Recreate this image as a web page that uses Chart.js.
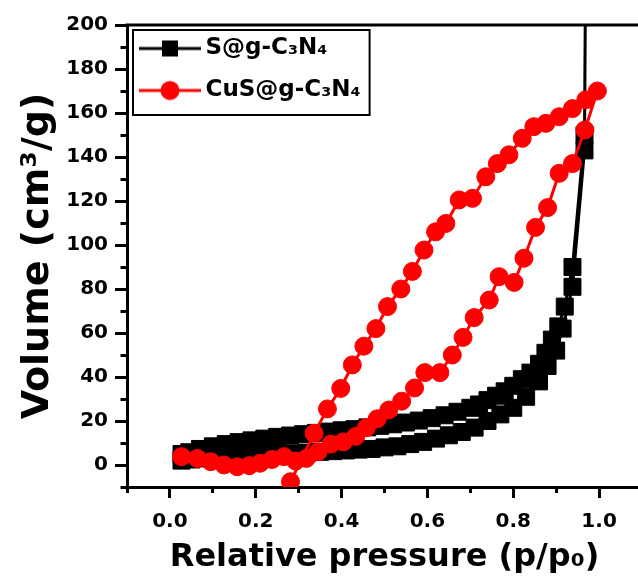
<!DOCTYPE html>
<html>
<head>
  <title>N2 isotherms</title>
  <script src="https://cdn.jsdelivr.net/npm/chart.js"></script>
  <style>
    body { margin: 0; overflow: hidden; background: #fff; }
  </style>
</head>
<body>
  <canvas id="isoChart" width="660" height="581"></canvas>

  <script>
    // relative pressure (p/p0) and volume (cm3/g)
    const sgAdsP = [0.027, 0.05, 0.08, 0.11, 0.14, 0.17, 0.20, 0.23, 0.26, 0.29,
                    0.32, 0.35, 0.38, 0.41, 0.44, 0.47, 0.50, 0.53, 0.56, 0.59,
                    0.62, 0.65, 0.68, 0.71, 0.74, 0.77, 0.80, 0.83, 0.86, 0.88,
                    0.90, 0.915, 0.938, 0.966, 0.969];
    const sgAdsV = [2.0, 2.5, 3.0, 3.3, 3.6, 4.0, 4.3, 4.6, 5.0, 5.3,
                    5.6, 6.0, 6.3, 6.6, 7.0, 7.3, 8.0, 8.5, 9.5, 10.5,
                    12, 13.5, 15, 17, 20, 23, 26, 31, 38, 45,
                    52, 62, 81, 143, 240];
    const sgDesP = [0.966, 0.938, 0.92, 0.905, 0.89, 0.875, 0.86, 0.84, 0.82, 0.80,
                    0.78, 0.76, 0.74, 0.72, 0.70, 0.67, 0.64, 0.61, 0.58, 0.55,
                    0.52, 0.49, 0.46, 0.43, 0.40, 0.37, 0.34, 0.31, 0.28, 0.25,
                    0.22, 0.19, 0.16, 0.13, 0.10, 0.07, 0.045, 0.027];
    const sgDesV = [150, 90, 72, 63, 57, 51, 46, 42, 39, 36,
                    33.5, 31.5, 29.5, 27.5, 26, 24.2, 22.6, 21.3, 20.2, 19.3,
                    18.5, 17.8, 17.1, 16.3, 15.8, 15.2, 14.6, 14, 13.4, 12.8,
                    12, 11.2, 10.4, 9.5, 8.5, 7.3, 5.8, 5.0];

    const cusAdsP = [0.027, 0.064, 0.095, 0.126, 0.157, 0.185, 0.210, 0.238, 0.266, 0.293,
                     0.318, 0.345, 0.375, 0.404, 0.433, 0.458, 0.483, 0.510, 0.540, 0.570,
                     0.594, 0.629, 0.658, 0.683, 0.709, 0.744, 0.767, 0.802, 0.825, 0.852,
                     0.880, 0.907, 0.938, 0.967, 0.996];
    const cusAdsV = [3.8, 3.0, 1.5, 0.0, -0.8, -0.3, 0.8, 2.5, 3.8, 1.8,
                     3.0, 6.0, 9.5, 10.5, 13, 17, 21, 25, 29, 35,
                     42, 42, 50, 58, 67, 75, 85.6, 83, 94, 108,
                     117, 132.6, 137, 152.3, 170];
    const cusDesP = [0.969, 0.938, 0.907, 0.876, 0.848, 0.821, 0.790, 0.763, 0.736, 0.705,
                     0.674, 0.643, 0.619, 0.592, 0.565, 0.538, 0.507, 0.480, 0.452, 0.425,
                     0.398, 0.367, 0.336, 0.281];
    const cusDesV = [166, 162, 158.3, 155.3, 153.8, 148.5, 141, 137, 131, 121.2,
                     120.5, 109.8, 106, 97.7, 88, 80, 72, 62, 54, 45.5,
                     34.8, 25.5, 14.4, -7.6];

    const labels = ['S@g-C₃N₄', 'CuS@g-C₃N₄'];
    const colors = ['#000000', '#ff0000'];
    const xTicks = [0.0, 0.2, 0.4, 0.6, 0.8, 1.0];
    const yTicks = [0, 20, 40, 60, 80, 100, 120, 140, 160, 180, 200];

    function points(px, vy) {
      return px.map((p, i) => ({x: p, y: vy[i]}));
    }

    // line + marker swatch for the legend
    function legendSymbol(color, square) {
      const c = document.createElement('canvas');
      c.width = 62;
      c.height = 22;
      const g = c.getContext('2d');
      g.strokeStyle = color;
      g.fillStyle = color;
      g.lineWidth = 3;
      g.beginPath();
      g.moveTo(0, 11);
      g.lineTo(62, 11);
      g.stroke();
      if (square) {
        g.fillRect(23, 3, 16, 16);
      } else {
        g.beginPath();
        g.arc(31, 11, 9.5, 0, Math.PI * 2);
        g.fill();
      }
      return c;
    }
    const symbols = [legendSymbol(colors[0], true), legendSymbol(colors[1], false)];

    const isMajorX = v => xTicks.some(t => Math.abs(t - v) < 1e-6);
    const isMajorY = v => yTicks.includes(Math.round(v));

    // top frame line and the box around the legend
    const framePlugin = {
      id: 'frame',
      afterLayout(chart) {
        const lg = chart.legend;
        lg.top = chart.chartArea.top - 7;
        lg.bottom = lg.top + lg.height;
      },
      afterDraw(chart) {
        const {ctx, chartArea} = chart;
        ctx.save();
        ctx.strokeStyle = '#000';
        ctx.lineWidth = 3;
        ctx.beginPath();
        ctx.moveTo(chartArea.left - 1.5, chartArea.top);
        ctx.lineTo(chartArea.right, chartArea.top);
        ctx.stroke();
        const hb = chart.legend.legendHitBoxes;
        const last = hb[hb.length - 1];
        const left = hb[0].left - 13;
        const top = hb[0].top - 7;
        const right = Math.max(...hb.map(h => h.left + h.width)) + 9;
        const bottom = last.top + last.height + 13;
        ctx.lineWidth = 2;
        ctx.strokeRect(left, top, right - left, bottom - top);
        ctx.restore();
      }
    };

    Chart.defaults.font.family = "'DejaVu Sans', sans-serif";
    Chart.defaults.font.weight = 'bold';
    Chart.defaults.color = '#000';

    new Chart(document.getElementById('isoChart'), {
      type: 'scatter',
      data: {
        datasets: [
          {
            label: labels[0],
            data: points(sgAdsP, sgAdsV).concat(points(sgDesP, sgDesV)),
            showLine: true,
            borderColor: colors[0],
            backgroundColor: colors[0],
            borderWidth: 3,
            pointStyle: 'rect',
            pointRadius: 12,
            pointBorderWidth: 1,
            pointBackgroundColor: colors[0],
            pointBorderColor: colors[0],
            order: 2
          },
          {
            label: labels[1],
            data: points(cusAdsP, cusAdsV).concat(points(cusDesP, cusDesV)),
            showLine: true,
            borderColor: colors[1],
            backgroundColor: colors[1],
            borderWidth: 3,
            pointStyle: 'circle',
            pointRadius: 9,
            pointBorderWidth: 1,
            pointBackgroundColor: colors[1],
            pointBorderColor: colors[1],
            order: 1
          }
        ]
      },
      options: {
        responsive: false,
        animation: false,
        events: [],
        layout: { padding: {left: 0, top: 25, right: 18, bottom: 0} },
        scales: {
          x: {
            type: 'linear',
            min: -0.1,
            max: 1.1,
            afterFit: s => { s.height = 94; },
            border: { color: '#000', width: 3 },
            grid: {
              drawOnChartArea: false,
              tickLength: 11,
              tickWidth: 3,
              tickColor: '#000',
              tickBorderDash: c => (c.tick && !isMajorX(c.tick.value)) ? [4, 100] : []
            },
            ticks: {
              stepSize: 0.1,
              autoSkip: false,
              maxRotation: 0,
              padding: 12,
              font: { size: 20, weight: 'bold' },
              callback: v => isMajorX(v) ? v.toFixed(1) : ''
            },
            title: {
              display: true,
              text: 'Relative pressure (p/p₀)',
              font: { size: 32, weight: 'bold' },
              padding: { top: 0, bottom: 4 }
            }
          },
          y: {
            min: -10,
            max: 200,
            afterFit: s => { s.width = 127; },
            border: { color: '#000', width: 3 },
            grid: {
              drawOnChartArea: false,
              tickLength: 12,
              tickWidth: 3,
              tickColor: '#000',
              tickBorderDash: c => (c.tick && !isMajorY(c.tick.value)) ? [0, 5.5, 100] : []
            },
            ticks: {
              stepSize: 10,
              autoSkip: false,
              padding: 7,
              font: { size: 20, weight: 'bold' },
              callback: v => isMajorY(v) ? String(v) : ''
            },
            title: {
              display: true,
              text: 'Volume (cm³/g)',
              font: { size: 38, weight: 'bold' },
              padding: { top: 15, bottom: 0 }
            }
          }
        },
        plugins: {
          tooltip: { enabled: false },
          legend: {
            position: 'chartArea',
            align: 'start',
            labels: {
              usePointStyle: true,
              pointStyleWidth: 48,
              padding: 19,
              font: { size: 23, weight: 'bold' },
              sort: (a, b) => a.datasetIndex - b.datasetIndex,
              generateLabels: chart => Chart.defaults.plugins.legend.labels.generateLabels(chart)
                .map(item => Object.assign(item, { pointStyle: symbols[item.datasetIndex] }))
            }
          }
        }
      },
      plugins: [framePlugin]
    });
  </script>
</body>
</html>
